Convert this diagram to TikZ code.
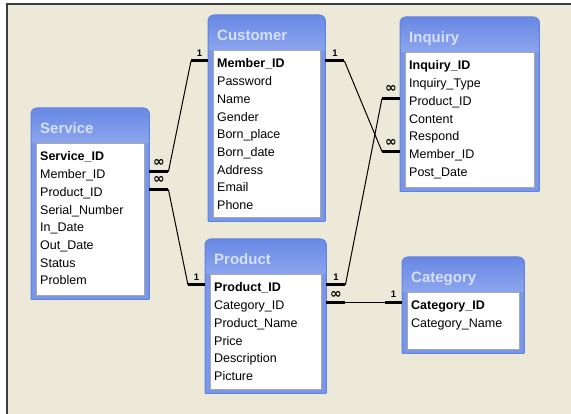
\documentclass[tikz,border=0pt]{standalone}
\usepackage{fontspec}
\setmainfont{Liberation Sans}
\newfontfamily\symbolfont{DejaVu Sans}
\usetikzlibrary{calc}

\definecolor{desk}{HTML}{ECE9D8}
\definecolor{frameline}{HTML}{3C3C3C}
\definecolor{tblue}{HTML}{7A96E8}
\definecolor{tbluetop}{HTML}{6888E4}
\definecolor{tbluebot}{HTML}{8CA5EE}
\definecolor{tedge}{HTML}{6182DE}
\definecolor{ttext}{HTML}{D6E0FA}
\definecolor{innerline}{HTML}{A8A8A8}

\tikzset{
  fieldtext/.style={anchor=base west, inner sep=0pt, text height=16pt, text depth=2pt,
    font=\fontsize{12.5}{14}\selectfont},
  keytext/.style={fieldtext, font=\fontsize{12.5}{14}\selectfont\bfseries},
  titletext/.style={anchor=base west, inner sep=0pt, text=ttext,
    font=\fontsize{15}{16}\selectfont\bfseries},
  stub/.style={line width=3pt, line cap=butt},
  link/.style={line width=1pt},
  one/.style={inner sep=0pt, font=\fontsize{9.5}{10}\selectfont\bfseries},
  many/.style={inner sep=0pt, font=\fontsize{14}{14}\selectfont\symbolfont\bfseries},
}

% #1 name, #2 x, #3 y, #4 width, #5 height, #6 title, #7 key field, #8 other fields
\newcommand{\ertable}[8]{%
  \node[minimum width=#4pt, minimum height=#5pt, inner sep=0pt, anchor=north west] (#1) at (#2,#3) {};
  \begin{scope}
    \clip[rounded corners=6pt] (#1.south west) -- (#1.north west) -- (#1.north east) -- (#1.south east);
    \fill[tblue] (#1.south west) rectangle (#1.north east);
    \shade[top color=tbluetop, bottom color=tbluebot]
      (#1.north west) rectangle ($(#1.north east)+(0,-35pt)$);
  \end{scope}
  \draw[tedge, line width=1pt, rounded corners=6pt]
    (#1.south west) -- (#1.north west) -- (#1.north east) -- (#1.south east);
  \draw[tedge, line width=1pt] (#1.south west) -- (#1.south east);
  \node[draw=innerline, fill=white, line width=1pt, inner sep=0pt, anchor=north west,
        minimum width=#4pt-10pt, minimum height=#5pt-39pt]
    (#1-in) at ($(#1.north west)+(5pt,-35pt)$) {};
  \node[titletext] (#1-title) at ($(#1.north west)+(9pt,-25.5pt)$) {#6};
  \node[keytext] (#1-1) at ($(#1.north west)+(9pt,-53pt)$) {#7};
  \foreach \f [count=\i from 2] in {#8} {
    \node[fieldtext] (#1-\i) at ($(#1.north west)+(9pt,{-53pt-(\i-1)*17.7pt})$) {\f};
  }%
}

\begin{document}
\begin{tikzpicture}[x=1pt, y=-1pt]
  \useasboundingbox (0,0) rectangle (571,414);
  % desktop background and frame
  \fill[desk] (7,4) rectangle (580,420);
  \draw[frameline, line width=1.5pt] (7,420) -- (7,4) -- (580,4);

  % tables
  \ertable{customer}{208}{15}{117}{206}{Customer}{Member\_ID}%
    {Password,Name,Gender,Born\_place,Born\_date,Address,Email,Phone}
  \ertable{inquiry}{400}{17}{139}{174}{Inquiry}{Inquiry\_ID}%
    {Inquiry\_Type,Product\_ID,Content,Respond,Member\_ID,Post\_Date}
  \ertable{service}{31}{108}{118}{191}{Service}{Service\_ID}%
    {Member\_ID,Product\_ID,Serial\_Number,In\_Date,Out\_Date,Status,Problem}
  \ertable{product}{205}{239}{121}{154}{Product}{Product\_ID}%
    {Category\_ID,Product\_Name,Price,Description,Picture}
  \ertable{category}{402}{257}{122}{96}{Category}{Category\_ID}%
    {Category\_Name}

  % Customer.Member_ID (1) -- Service.Member_ID (many)
  \draw[stub] (customer.west |- customer-1) -- ++(-17pt,0) coordinate (r1a);
  \path (customer.west |- customer-1) -- (r1a) node[one, midway, yshift=8pt] {1};
  \draw[stub] (service.east |- service-2) -- ++(19pt,0) coordinate (r1b);
  \path (service.east |- service-2) -- (r1b) node[many, midway, yshift=9pt] {∞};
  \draw[link] (r1a) -- (r1b);

  % Product.Product_ID (1) -- Service.Product_ID (many)
  \draw[stub] (service.east |- service-3) -- ++(19pt,0) coordinate (r2a);
  \path (service.east |- service-3) -- (r2a) node[many, midway, yshift=9pt] {∞};
  \draw[stub] (product.west |- product-1) -- ++(-17pt,0) coordinate (r2b);
  \path (product.west |- product-1) -- (r2b) node[one, midway, yshift=8pt] {1};
  \draw[link] (r2a) -- (r2b);

  % Customer.Member_ID (1) -- Inquiry.Member_ID (many)
  \draw[stub] (customer.east |- customer-1) -- ++(19pt,0) coordinate (r3a);
  \path (customer.east |- customer-1) -- (r3a) node[one, midway, yshift=8pt] {1};
  \draw[stub] (inquiry.west |- inquiry-6) -- ++(-18pt,0) coordinate (r3b);
  \path (inquiry.west |- inquiry-6) -- (r3b) node[many, midway, yshift=9pt] {∞};
  \draw[link] (r3a) -- (r3b);

  % Product.Product_ID (1) -- Inquiry.Product_ID (many)
  \draw[stub] (product.east |- product-1) -- ++(19pt,0) coordinate (r4a);
  \path (product.east |- product-1) -- (r4a) node[one, midway, yshift=8pt] {1};
  \draw[stub] (inquiry.west |- inquiry-3) -- ++(-18pt,0) coordinate (r4b);
  \path (inquiry.west |- inquiry-3) -- (r4b) node[many, midway, yshift=9pt] {∞};
  \draw[link] (r4a) -- (r4b);

  % Category.Category_ID (1) -- Product.Category_ID (many), one straight row
  \draw[stub] (product.east |- product-2) -- ++(19pt,0) coordinate (r5a);
  \path (product.east |- product-2) -- (r5a) node[many, midway, yshift=8pt] {∞};
  \draw[stub] (category.west |- product-2) -- ++(-17pt,0) coordinate (r5b);
  \path (category.west |- product-2) -- (r5b) node[one, midway, yshift=8pt] {1};
  \draw[line width=1.6pt] (r5a) -- (r5b);
\end{tikzpicture}
\end{document}
